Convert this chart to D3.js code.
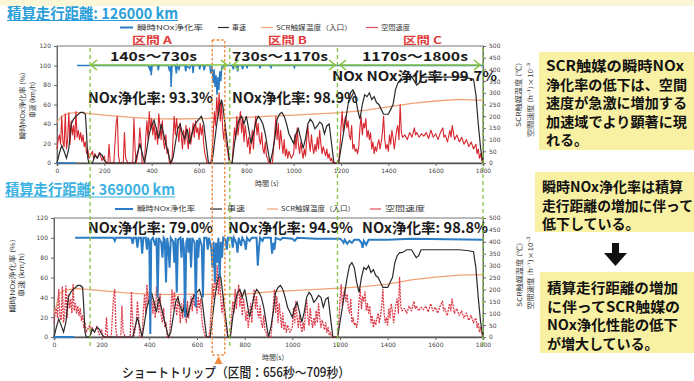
<!DOCTYPE html>
<html><head><meta charset="utf-8">
<script src="https://cdn.jsdelivr.net/npm/d3@7"></script>
<style>body{margin:0;background:#fff}svg{display:block}</style>
</head><body><svg id="c" width="694" height="381"></svg>
<script>
// ---------- DATA ----------
const timeTicks = [0,200,400,600,800,1000,1200,1400,1600,1800];
const leftTicks = [0,20,40,60,80,100,120];
const rightTicks = [0,50,100,150,200,250,300,350,400,450,500];
const legendLabels = ["瞬時NOx浄化率","車速","SCR触媒温度（入口）","空間速度"];
const panelTitles = ["積算走行距離: 126000 km","積算走行距離: 369000 km"];
const sectionNames = ["区間 A","区間 B","区間 C"];
const sectionRanges = ["140s～730s","730s～1170s","1170s～1800s"];
const sectionBounds = [140,730,1185,1800];
const noxRatesTop = ["NOx浄化率: 93.3%","NOx浄化率: 98.9%","NOx NOx浄化率: 99.7%"];
const noxRatesBottom = ["NOx浄化率: 79.0%","NOx浄化率: 94.9%","NOx浄化率: 98.8%"];
const shortTrip = [656,709];
const shortTripLabel = "ショートトリップ（区間：656秒～709秒）";
const noteTexts1 = ["SCR触媒の瞬時NOx","浄化率の低下は、空間","速度が急激に増加する","加速域でより顕著に現","れる。"];
const noteTexts2 = ["瞬時NOx浄化率は積算","走行距離の増加に伴って","低下している。"];
const noteTexts3 = ["積算走行距離の増加","に伴ってSCR触媒の","NOx浄化性能の低下","が増大している。"];

// vehicle speed km/h [t, v]
const speedKmh = [[0,0],[10,10],[20,18],[30,12],[40,5],[50,15],[60,40],[70,45],[80,48],[90,50],[100,52],[110,52],[120,50],[125,30],[130,5],[135,0],[150,0],[160,8],[170,5],[180,10],[190,8],[200,3],[210,0],[330,0],[340,10],[350,20],[360,10],[370,0],[380,15],[390,30],[400,38],[410,44],[420,35],[430,25],[440,40],[450,30],[460,20],[470,10],[480,0],[490,5],[500,20],[510,35],[520,40],[530,30],[540,25],[550,35],[560,20],[570,30],[580,38],[590,42],[600,45],[610,48],[620,40],[630,20],[640,0],[655,0],[665,20],[675,40],[685,55],[695,65],[700,60],[710,40],[720,20],[730,0],[740,0],[750,20],[760,35],[770,45],[780,48],[790,40],[800,48],[810,35],[820,20],[830,30],[840,42],[850,48],[860,45],[870,40],[880,30],[890,15],[900,0],[910,10],[920,25],[930,45],[940,50],[950,52],[960,48],[970,40],[980,30],[990,25],[1000,20],[1010,30],[1020,35],[1030,25],[1040,15],[1050,25],[1060,40],[1070,45],[1080,42],[1090,35],[1100,38],[1110,42],[1120,40],[1130,30],[1140,38],[1150,40],[1160,20],[1170,0],[1190,0],[1200,15],[1210,30],[1220,45],[1230,60],[1240,72],[1250,75],[1260,70],[1270,55],[1280,45],[1290,60],[1300,70],[1310,68],[1320,72],[1330,65],[1340,68],[1350,62],[1360,60],[1370,55],[1380,50],[1390,50],[1400,50],[1410,55],[1420,60],[1430,75],[1440,82],[1450,85],[1460,85],[1480,88],[1500,88],[1520,80],[1530,82],[1540,88],[1600,88],[1700,88],[1740,87],[1760,86],[1770,70],[1780,40],[1790,15],[1800,0]];

// space velocity (right axis units) [t, v]
const spaceVelocity = [[0,60],[5,100],[10,120],[15,80],[20,200],[25,90],[30,70],[35,210],[40,60],[45,100],[50,215],[55,80],[60,180],[65,120],[70,160],[75,100],[80,220],[85,110],[90,140],[95,100],[100,130],[105,90],[110,120],[115,70],[120,90],[125,40],[130,60],[135,20],[140,30],[150,50],[155,15],[160,40],[170,20],[180,45],[190,10],[200,30],[205,0],[215,0],[220,80],[225,0],[240,0],[250,170],[255,200],[260,30],[265,0],[280,0],[285,130],[290,20],[300,0],[320,0],[325,190],[330,60],[335,0],[345,60],[350,150],[355,90],[360,0],[370,0],[375,110],[380,180],[385,100],[390,220],[395,140],[400,190],[405,120],[410,170],[415,100],[420,150],[425,80],[430,210],[435,160],[440,100],[445,180],[450,90],[455,60],[460,120],[465,40],[470,60],[475,0],[485,0],[490,100],[495,200],[500,120],[505,190],[510,140],[515,90],[520,170],[525,120],[530,60],[535,140],[540,80],[545,160],[550,100],[555,60],[560,150],[565,80],[570,120],[575,170],[580,110],[585,180],[590,130],[595,150],[600,100],[605,170],[610,120],[615,160],[620,80],[625,40],[630,20],[635,0],[650,0],[655,40],[660,120],[665,220],[670,160],[675,280],[680,200],[685,300],[690,180],[695,260],[700,150],[705,100],[710,170],[715,80],[720,60],[725,20],[730,0],[740,0],[745,80],[750,150],[755,100],[760,200],[765,120],[770,170],[775,220],[780,130],[785,190],[790,90],[795,160],[800,120],[805,70],[810,110],[815,40],[820,80],[825,140],[830,60],[835,150],[840,200],[845,120],[850,170],[855,100],[860,80],[865,130],[870,60],[875,40],[880,90],[885,30],[890,20],[895,0],[910,0],[915,60],[920,130],[925,200],[930,100],[935,170],[940,60],[945,140],[950,90],[955,40],[960,100],[965,30],[970,60],[975,20],[980,50],[990,20],[1000,40],[1005,120],[1010,60],[1015,150],[1020,80],[1025,40],[1030,90],[1035,50],[1040,20],[1045,60],[1050,30],[1055,100],[1060,160],[1065,90],[1070,50],[1075,120],[1080,70],[1085,40],[1090,80],[1095,50],[1100,110],[1105,60],[1110,140],[1115,80],[1120,40],[1125,70],[1130,50],[1135,30],[1140,60],[1145,20],[1150,40],[1155,10],[1160,20],[1165,0],[1190,0],[1195,60],[1200,150],[1205,220],[1210,130],[1215,180],[1220,200],[1225,150],[1230,180],[1235,120],[1240,100],[1245,160],[1250,60],[1255,80],[1260,50],[1265,60],[1270,40],[1275,70],[1280,150],[1285,200],[1290,120],[1295,170],[1300,150],[1305,190],[1310,110],[1315,140],[1320,100],[1325,130],[1330,60],[1335,90],[1340,40],[1345,70],[1350,50],[1355,80],[1360,100],[1365,60],[1370,90],[1375,130],[1380,200],[1385,100],[1390,60],[1395,80],[1400,50],[1405,120],[1410,80],[1415,140],[1420,110],[1425,60],[1430,100],[1435,140],[1440,160],[1445,100],[1450,250],[1455,130],[1460,110],[1470,120],[1480,100],[1490,130],[1500,110],[1510,150],[1515,120],[1520,130],[1530,110],[1540,125],[1550,115],[1560,130],[1570,105],[1580,140],[1590,110],[1600,125],[1610,100],[1620,130],[1630,150],[1635,110],[1640,120],[1650,90],[1660,140],[1665,110],[1670,160],[1680,100],[1690,120],[1700,90],[1710,110],[1720,80],[1730,100],[1740,70],[1750,90],[1760,60],[1770,80],[1775,40],[1780,60],[1785,20],[1790,40],[1795,10],[1800,0]];

// SCR inlet temperature °C
const tempTop = [[0,175],[20,200],[50,212],[80,215],[100,215],[150,210],[200,205],[300,196],[400,190],[500,188],[600,190],[700,192],[800,195],[900,200],[1000,205],[1100,210],[1200,215],[1300,225],[1400,240],[1500,255],[1600,265],[1700,272],[1800,268]];
const tempBottom = [[0,100],[10,130],[20,180],[40,195],[70,200],[100,203],[200,195],[300,185],[400,180],[500,178],[600,180],[700,178],[800,180],[900,190],[1000,195],[1100,200],[1200,205],[1300,212],[1400,222],[1500,240],[1600,252],[1700,260],[1800,262]];

// instantaneous NOx conversion % (null = gap in the trace)
const noxTop = [[0,0],[80,0],[82,null],[85,100],[385,100],[392,96],[396,100],[398,90],[402,100],[425,100],[428,95],[431,100],[470,100],[476,94],[480,100],[482,78],[486,100],[500,100],[504,92],[508,100],[515,96],[519,100],[540,100],[544,94],[548,100],[560,97],[564,100],[572,100],[575,92],[578,100],[600,100],[603,96],[606,100],[618,100],[622,95],[626,100],[645,100],[650,92],[655,100],[660,82],[664,96],[668,78],[672,90],[676,70],[680,88],[684,75],[688,94],[692,84],[696,98],[705,100],[740,100],[745,96],[748,100],[760,100],[763,94],[766,100],[780,100],[784,96],[788,100],[800,100],[803,97],[806,100],[855,100],[858,97],[861,100],[900,100],[905,98],[908,100],[1000,100],[1003,98],[1006,100],[1800,100]];
const noxBottom = [[0,0],[84,0],[86,null],[89,100],[250,100],[255,97],[260,100],[325,100],[330,94],[335,100],[345,100],[350,90],[355,100],[365,100],[370,84],[375,100],[385,100],[390,88],[395,100],[400,95],[404,3],[408,98],[415,100],[425,92],[430,100],[435,40],[440,100],[450,95],[455,80],[460,100],[465,98],[470,55],[475,100],[480,90],[485,70],[490,100],[500,96],[505,75],[510,100],[515,45],[520,98],[530,100],[535,80],[540,100],[545,90],[550,20],[555,95],[560,100],[565,85],[570,100],[575,70],[580,100],[590,95],[595,30],[600,98],[605,80],[610,100],[620,92],[625,40],[630,100],[640,100],[645,88],[650,100],[660,90],[665,70],[670,96],[675,55],[680,95],[685,75],[690,100],[695,60],[700,96],[705,80],[710,100],[720,98],[725,88],[730,100],[745,100],[750,90],[755,100],[765,95],[770,85],[775,100],[785,92],[790,100],[800,96],[805,88],[810,100],[820,97],[830,100],[850,100],[855,72],[860,90],[865,100],[875,97],[880,100],[910,100],[915,84],[920,95],[925,88],[930,100],[950,98],[960,100],[1000,99],[1010,97],[1020,100],[1100,99],[1200,99],[1210,97],[1215,95],[1220,98],[1230,94],[1240,97],[1250,95],[1260,98],[1280,98],[1290,95],[1295,90],[1300,97],[1310,93],[1320,98],[1400,98],[1500,99],[1800,98]];

// ---------- DRAW ----------
const svg = d3.select('#c');
const JP = '"Noto Sans CJK JP","Noto Sans",sans-serif';
const SM = '"DejaVu Sans",sans-serif';
svg.append('rect').attr('width',694).attr('height',381).attr('fill','#fff');
svg.append('rect').attr('width',694).attr('height',6).attr('fill','#fbf6d6');

const C = {blue:'#2b7cc4', black:'#2a2a2a', orange:'#f2a276', red:'#d8262e', green:'#86c440', redT:'#e03c3c'};

function txt(g, s, x, y, size, opt={}) {
  const t = g.append('text').attr('x',x).attr('y',y).text(s)
    .attr('font-family', opt.font || JP).attr('font-size', size)
    .attr('font-weight', opt.weight || 400).attr('fill', opt.fill || '#222');
  if (opt.len) t.attr('textLength', opt.len).attr('lengthAdjust','spacingAndGlyphs');
  if (opt.anchor) t.attr('text-anchor', opt.anchor);
  if (opt.transform) t.attr('transform', opt.transform);
  return t;
}

function drawPanel(p) {
  const g = svg.append('g');
  const x = d3.scaleLinear().domain([0,1800]).range([p.x0,p.x1]);
  const yL = d3.scaleLinear().domain([0,120]).range([p.yBot,p.yTop]);
  const yR = d3.scaleLinear().domain([0,500]).range([p.yBot,p.yTop]);

  g.append('rect').attr('x',p.x0).attr('y',p.yTop).attr('width',p.x1-p.x0).attr('height',p.yBot-p.yTop)
    .attr('fill','none').attr('stroke','#777').attr('stroke-width',1);

  const styleAxis = a => {
    a.selectAll('text').attr('font-family',SM).attr('font-size',6).attr('fill','#444');
    a.selectAll('line').attr('stroke','#666');
    a.select('.domain').attr('stroke','#666');
  };
  g.append('g').attr('transform',`translate(${p.x0},0)`)
    .call(d3.axisLeft(yL).tickValues(leftTicks).tickSize(3).tickPadding(3)).call(styleAxis);
  g.append('g').attr('transform',`translate(${p.x1},0)`)
    .call(d3.axisRight(yR).tickValues(rightTicks).tickSize(3).tickPadding(3)).call(styleAxis);
  const xa = g.append('g').attr('transform',`translate(0,${p.yBot})`)
    .call(d3.axisBottom(x).tickValues(timeTicks).tickFormat(d3.format('d')).tickSize(3).tickPadding(3)).call(styleAxis);
  xa.select('.domain').attr('stroke','#555').attr('stroke-width',1.6);

  const lineR = d3.line().x(d=>x(d[0])).y(d=>yR(d[1]));
  const lineL = d3.line().defined(d=>d[1]!==null).x(d=>x(d[0])).y(d=>yL(d[1]));

  g.append('path').datum(p.temp).attr('d',lineR).attr('fill','none').attr('stroke',C.orange).attr('stroke-width',1.3);
  const sv = g.append('path').datum(spaceVelocity).attr('d',lineR).attr('fill','none')
    .attr('stroke',p.svColor).attr('stroke-width',p.svWidth).attr('stroke-linejoin','round');
  if (p.svDash) sv.attr('stroke-dasharray',p.svDash);
  g.append('path').datum(speedKmh).attr('d',lineL).attr('fill','none').attr('stroke',C.black).attr('stroke-width',1.2);
  g.append('path').datum(p.nox).attr('d',lineL).attr('fill','none').attr('stroke',C.blue).attr('stroke-width',p.noxWidth);

  const cols = [C.blue, C.black, C.orange, '#e0505a'];
  p.legend.forEach((L,i)=>{
    g.append('line').attr('x1',L[0]).attr('x2',L[1]).attr('y1',p.legY).attr('y2',p.legY)
      .attr('stroke',cols[i]).attr('stroke-width', i===0?2:1.2);
    txt(g, legendLabels[i], L[2], p.legY+2.3, 6.5, {len:L[3]-L[2], fill:'#333'});
  });

  txt(g, p.title, p.tx, p.ty, 15, {weight:700, fill:p.titleColor, len:p.tw});
  g.append('line').attr('x1',p.tx).attr('x2',p.tx+p.tw).attr('y1',p.ty+2).attr('y2',p.ty+2).attr('stroke',p.titleColor).attr('stroke-width',1.2);

  txt(g,'瞬時NOx浄化率 (%)',0,0,6.5,{anchor:'middle',fill:'#333',transform:`translate(${p.lt1[0]},${p.lt1[1]}) rotate(-90)`,len:p.lt1[2]});
  txt(g,'車速 (km/h)',0,0,6.5,{anchor:'middle',fill:'#333',transform:`translate(${p.lt2[0]},${p.lt2[1]}) rotate(-90)`,len:p.lt2[2]});
  txt(g,'SCR触媒温度 (℃)',0,0,6.5,{anchor:'middle',fill:'#333',transform:`translate(${p.rt1[0]},${p.rt1[1]}) rotate(-90)`,len:p.rt1[2]});
  txt(g,'空間速度 (h⁻¹)×10⁻³',0,0,6.5,{anchor:'middle',fill:'#333',transform:`translate(${p.rt2[0]},${p.rt2[1]}) rotate(-90)`,len:p.rt2[2]});
  txt(g, p.xTitle, p.xt[0], p.xt[1], 7, {fill:'#333'});

  p.noxLabels.forEach((s,i)=>{
    const P = p.noxPos[i];
    txt(g, s, P[0], P[2], P[3] || 14, {weight:700, fill:'#1a1a1a', len:P[1]-P[0]});
  });
  return x;
}

const xTop = drawPanel({
  x0:57, x1:483, yTop:46, yBot:163, temp:tempTop, nox:noxTop, noxWidth:1.5,
  svColor:C.red, svWidth:1.1, svDash:null,
  legY:27.5, legend:[[120,133,137,203],[218,229,232,246],[261,273,276,352],[366,378,381,410]],
  title:panelTitles[0], tx:7, ty:18.5, tw:171, titleColor:'#2a9ed8',
  lt1:[25,106,67], lt2:[35,100,36], rt1:[521,95,64], rt2:[533,100,74],
  xTitle:'時間 (s)', xt:[255,186],
  noxLabels:noxRatesTop, noxPos:[[88,213,103],[232,358,103],[332,497,81,13]]
});
drawPanel({
  x0:54, x1:483, yTop:218, yBot:337, temp:tempBottom, nox:noxBottom, noxWidth:2,
  svColor:'#dc3a48', svWidth:1.3, svDash:'2,1',
  legY:209, legend:[[115,133,137,195],[210,222,227,245],[267,278,281,355],[370,381,385,425]],
  title:panelTitles[1], tx:5, ty:195, tw:170, titleColor:'#3cb2e2',
  lt1:[15,276,73], lt2:[24,275,44], rt1:[522,275,64], rt2:[533,273,73],
  xTitle:'時間(s)', xt:[262,360],
  noxLabels:noxRatesBottom, noxPos:[[88,213,233],[228,353,233],[362,488,233]]
});

// ---------- overlays ----------
const ov = svg.append('g');
sectionBounds.forEach(t=>{
  ov.append('line').attr('x1',xTop(t)).attr('x2',xTop(t)).attr('y1',48).attr('y2',346)
    .attr('stroke',C.green).attr('stroke-width',1.3).attr('stroke-dasharray','4,3');
});
ov.append('rect').attr('x',xTop(shortTrip[0])).attr('y',40).attr('width',xTop(shortTrip[1])-xTop(shortTrip[0])).attr('height',315)
  .attr('fill','none').attr('stroke','#f08a3c').attr('stroke-width',1.4).attr('stroke-dasharray','2.5,2');
const mid = (xTop(shortTrip[0])+xTop(shortTrip[1]))/2;
ov.append('path').attr('d',`M${mid},356 L${mid-4},364 L${mid+4},364 Z`).attr('fill','#f08a3c');
txt(ov, shortTripLabel, 122, 377, 13, {len:228, fill:'#222', weight:500});

const arrowY = 65;
[[90,228],[232,336],[339,481]].forEach(a=>{
  ov.append('line').attr('x1',a[0]).attr('x2',a[1]).attr('y1',arrowY).attr('y2',arrowY).attr('stroke',C.green).attr('stroke-width',1.6);
  ov.append('path').attr('d',`M${a[0]+7},${arrowY-5} L${a[0]+1},${arrowY} L${a[0]+7},${arrowY+5}`).attr('fill','none').attr('stroke',C.green).attr('stroke-width',1.6);
  ov.append('path').attr('d',`M${a[1]-7},${arrowY-5} L${a[1]-1},${arrowY} L${a[1]-7},${arrowY+5}`).attr('fill','none').attr('stroke',C.green).attr('stroke-width',1.6);
});
[[132,172],[268,307],[403,442]].forEach((p,i)=> txt(ov, sectionNames[i], p[0], 43.5, 10, {weight:700, fill:C.redT, len:p[1]-p[0]}));
[[110,197],[232,328],[362,468]].forEach((p,i)=> txt(ov, sectionRanges[i], p[0], 61, 12.5, {weight:700, fill:'#1a1a1a', len:p[1]-p[0]}));

// ---------- notes ----------
const nt = svg.append('g');
function note(lines, x0, y0, y1, tx, base, widths) {
  nt.append('rect').attr('x',x0).attr('y',y0).attr('width',694-x0).attr('height',y1-y0).attr('fill','#f8f0a2');
  lines.forEach((s,i)=> txt(nt, s, tx, base + i*18.5, 14, {weight:700, fill:'#111', len:widths[i]}));
}
note(noteTexts1, 539, 52, 150, 546, 71, [138,141,141,141,undefined]);
note(noteTexts2, 535, 172, 232, 542, 192, [141,151,undefined]);
note(noteTexts3, 540, 272, 353, 547, 293, [131,133,131,undefined]);
nt.append('path').attr('d','M612,243 L619,243 L619,253 L627,253 L615.5,266 L604,253 L612,253 Z').attr('fill','#111');
</script></body></html>
